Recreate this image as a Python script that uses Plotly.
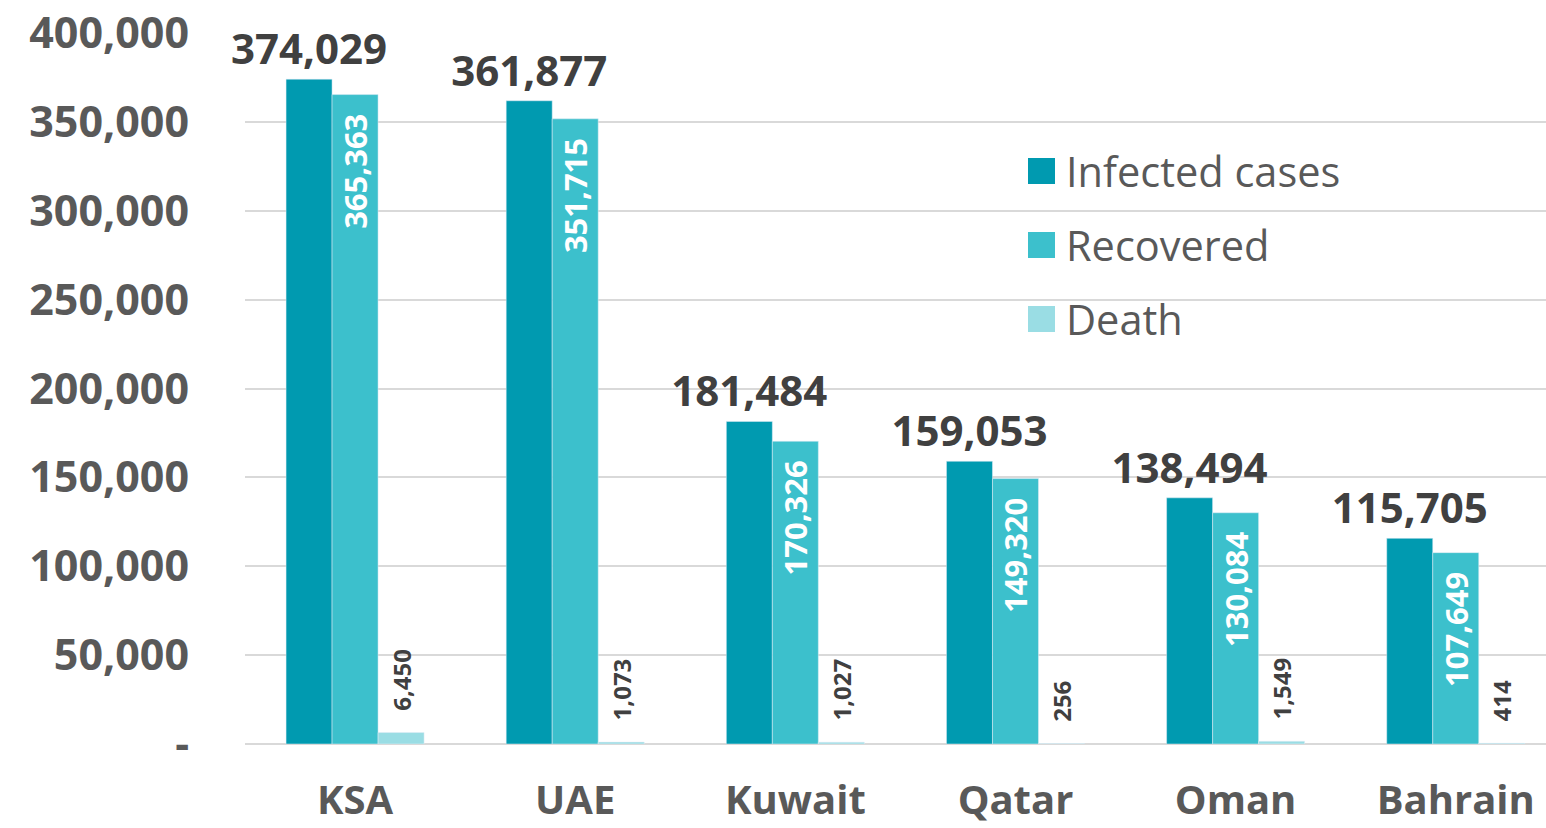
import plotly.graph_objects as go

categories = ["KSA", "UAE", "Kuwait", "Qatar", "Oman", "Bahrain"]
infected = [374029, 361877, 181484, 159053, 138494, 115705]
recovered = [365363, 351715, 170326, 149320, 130084, 107649]
death = [6450, 1073, 1027, 256, 1549, 414]
series_names = ["Infected cases", "Recovered", "Death"]
colors = ["#009AB0", "#3CC0CC", "#9ADDE4"]
y_ticks = [0, 50000, 100000, 150000, 200000, 250000, 300000, 350000, 400000]
y_ticktext = ["-"] + [f"{v:,}" for v in y_ticks[1:]]

FONT = "Open Sans"
W, H = 1546, 828
L, R, T, B = 245, 0, 33, 84
NB = "\u00a0"

def fmt(vals, pre="", post=""):
    return [f"{pre}{v:,}{post}" for v in vals]

fig = go.Figure()
fig.add_trace(go.Bar(
    x=categories, y=infected, name=series_names[0], marker_color=colors[0],
    text=fmt(infected), textposition="outside", textangle=0, constraintext="none",
    outsidetextfont=dict(family=FONT, size=42, color="#404040", weight="bold"),
    cliponaxis=False, showlegend=False))
fig.add_trace(go.Bar(
    x=categories, y=recovered, name=series_names[1], marker_color=colors[1],
    text=fmt(recovered, post=NB * 2), textposition="inside", textangle=-90,
    insidetextanchor="end", constraintext="none",
    insidetextfont=dict(family=FONT, size=31, color="white", weight="bold"),
    showlegend=False))
fig.add_trace(go.Bar(
    x=categories, y=death, name=series_names[2], marker_color=colors[2],
    text=fmt(death, pre=NB * 3), textposition="outside", textangle=-90, constraintext="none",
    outsidetextfont=dict(family=FONT, size=24, color="#404040", weight="bold"),
    cliponaxis=False, showlegend=False))

plot_w = W - L - R
plot_h = H - T - B
def px_x(px):
    return (px - L) / plot_w
def px_y(py):
    return (H - B - py) / plot_h

shapes = []
annotations = []
leg_y = [171, 245, 319]
for name, col, yy in zip(series_names, colors, leg_y):
    shapes.append(dict(type="rect", xref="paper", yref="paper",
                       x0=px_x(1028), x1=px_x(1055), y0=px_y(yy + 13), y1=px_y(yy - 13),
                       fillcolor=col, line=dict(width=0)))
    annotations.append(dict(xref="paper", yref="paper", x=px_x(1064), y=px_y(yy),
                            xanchor="left", yanchor="middle", text=name, showarrow=False,
                            font=dict(family=FONT, size=41.5, color="#595959")))

fig.update_layout(
    width=W, height=H,
    margin=dict(l=L, r=R, t=T, b=B, pad=0, autoexpand=False),
    barmode="group", bargap=0.373, bargroupgap=0,
    plot_bgcolor="white", paper_bgcolor="white",
    font=dict(family=FONT, color="#595959"),
    shapes=shapes, annotations=annotations,
    xaxis=dict(range=[-0.5, 5.41], showgrid=False, showline=False, zeroline=False,
               ticks="", ticklabelstandoff=29, automargin=False,
               tickfont=dict(family=FONT, size=40, color="#595959", weight="bold")),
    yaxis=dict(range=[0, 400000], tickvals=y_ticks, ticktext=y_ticktext,
               showgrid=True, gridcolor="#D9D9D9", gridwidth=2,
               zeroline=True, zerolinecolor="#D9D9D9", zerolinewidth=2,
               showline=False, ticks="", ticklabelstandoff=55, automargin=False,
               tickfont=dict(family=FONT, size=43, color="#595959", weight="bold")),
)

fig.write_html("out.html", config={"displayModeBar": False},
               post_script="document.body.style.margin='0';document.body.style.overflow='hidden';")
